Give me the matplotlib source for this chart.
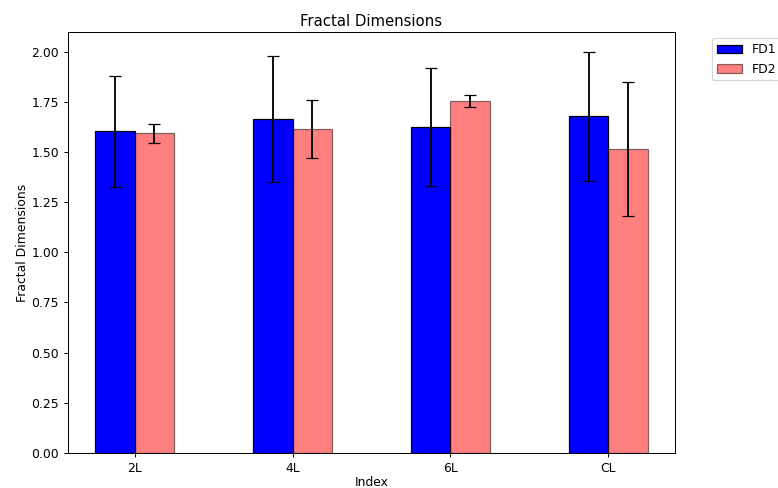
import matplotlib.pyplot as plt
import numpy as np

categories = ["2L", "4L", "6L", "CL"]
fd1_means = [1.603, 1.665, 1.623, 1.677]
fd1_errs = [0.278, 0.315, 0.295, 0.320]
fd2_means = [1.593, 1.614, 1.756, 1.516]
fd2_errs = [0.046, 0.143, 0.030, 0.334]


def plot_fd():
    fig, ax = plt.subplots(figsize=(778 / 89, 488 / 89), dpi=89)
    x = np.arange(len(categories))
    width = 0.25

    ax.bar(x - width / 2, fd1_means, width, yerr=fd1_errs, capsize=5,
           color="blue", edgecolor="black", label="FD1")
    ax.bar(x + width / 2, fd2_means, width, yerr=fd2_errs, capsize=5,
           color="red", alpha=0.5, edgecolor="black", label="FD2")

    ax.set_xticks(x)
    ax.set_xticklabels(categories)
    ax.set_xlabel("Index", labelpad=1)
    ax.set_ylabel("Fractal Dimensions", labelpad=2)
    ax.set_title("Fractal Dimensions", pad=5)
    ax.legend(bbox_to_anchor=(1.05, 1), loc="upper left")

    fig.subplots_adjust(left=0.087, right=0.868, top=0.934, bottom=0.072)
    fig.savefig("out.png", dpi=89)


if __name__ == "__main__":
    plot_fd()
